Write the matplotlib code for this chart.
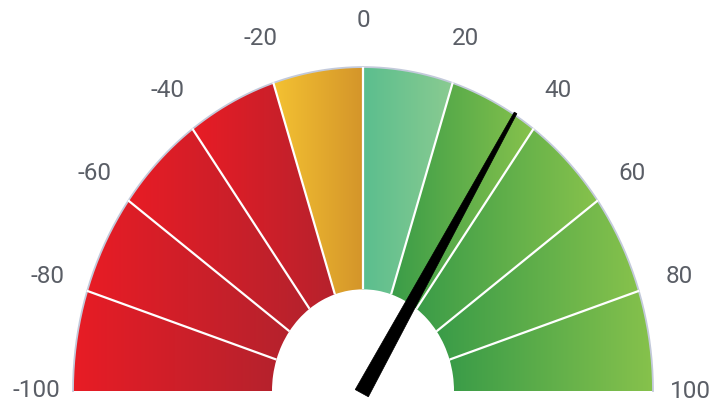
import numpy as np
import matplotlib
matplotlib.use("Agg")
import matplotlib.pyplot as plt
from matplotlib.patches import Wedge, Polygon

# ---- data ----
tick_values = [-100, -80, -60, -40, -20, 0, 20, 40, 60, 80, 100]
tick_labels = ["-100", "-80", "-60", "-40", "-20", "0", "20", "40", "60", "80", "100"]
segment_left_colors = ["#e81c25"] * 4 + ["#f4c232", "#5bbe8e"] + ["#3a9c48"] * 4
segment_right_colors = ["#b5222d"] * 4 + ["#d4952a", "#8acb91"] + ["#87c24c"] * 4
needle_value = 35

# ---- geometry / style ----
R_IN, R_OUT, R_LAB, R_LAB_END = 91, 290, 332, 327
STRETCH = 1.117
CX_PX, CY_PX = 363, 391
W, H = 715, 404

plt.rcParams['font.family'] = ['Roboto', 'DejaVu Sans']

fig = plt.figure(figsize=(W / 100, H / 100), dpi=100)
ax = fig.add_axes([0, 0, 1, 1])
ax.set_xlim(-CX_PX, W - CX_PX)
ax.set_ylim((CY_PX - H) / STRETCH, CY_PX / STRETCH)
ax.axis('off')


def val2ang(v):
    return 180.0 - (v + 100.0) / 200.0 * 180.0


def hex2rgb(h):
    h = h.lstrip('#')
    return np.array([int(h[i:i + 2], 16) / 255 for i in (0, 2, 4)])


for i in range(len(tick_values) - 1):
    a1 = val2ang(tick_values[i + 1])
    a0 = val2ang(tick_values[i])
    wedge = Wedge((0, 0), R_OUT, a1, a0, width=R_OUT - R_IN,
                  facecolor='none', edgecolor='none')
    ax.add_patch(wedge)
    t = np.radians(np.linspace(a1, a0, 100))
    xs = np.concatenate([R_OUT * np.cos(t), R_IN * np.cos(t)])
    ys = np.concatenate([R_OUT * np.sin(t), R_IN * np.sin(t)])
    c0 = hex2rgb(segment_left_colors[i])
    c1 = hex2rgb(segment_right_colors[i])
    f = np.linspace(0, 1, 256)[:, None]
    grad = (c0 * (1 - f) + c1 * f)[None, :, :]
    im = ax.imshow(grad, extent=[xs.min(), xs.max(), ys.min(), ys.max()],
                   aspect='auto', interpolation='bilinear', zorder=1)
    im.set_clip_path(wedge)

# outer outline
t = np.radians(np.linspace(0, 180, 400))
ax.plot(R_OUT * np.cos(t), R_OUT * np.sin(t), color='#c3cadb', lw=1.3, zorder=2)

# separators
for v in tick_values[1:-1]:
    a = np.radians(val2ang(v))
    ax.plot([R_IN * np.cos(a), (R_OUT + 0.5) * np.cos(a)],
            [R_IN * np.sin(a), (R_OUT + 0.5) * np.sin(a)],
            color='white', lw=1.6, zorder=3, solid_capstyle='butt')

# labels
for v, lab in zip(tick_values, tick_labels):
    a = np.radians(val2ang(v))
    r = R_LAB_END if abs(v) == 100 else R_LAB
    ax.text(r * np.cos(a), r * np.sin(a), lab, ha='center', va='center',
            fontsize=17.5, color='#5a5e66', zorder=4)

# needle (built in pixel space so width is uniform)
fig.canvas.draw()
tr = ax.transData
inv = tr.inverted()
a = np.radians(val2ang(needle_value))
tip = tr.transform((292 * np.cos(a), 292 * np.sin(a)))
ctr = tr.transform((0, 0))
d = (tip - ctr) / np.linalg.norm(tip - ctr)
p = np.array([-d[1], d[0]])
base = ctr - d * 2.5
hb, ht = 7.5, 1.5
pts_px = np.array([base + p * hb, tip + p * ht, tip - p * ht, base - p * hb])
pts = inv.transform(pts_px)
ax.add_patch(Polygon(pts, closed=True, facecolor='black', edgecolor='black',
                     lw=0.5, zorder=5))

fig.savefig('out.png', dpi=100)
